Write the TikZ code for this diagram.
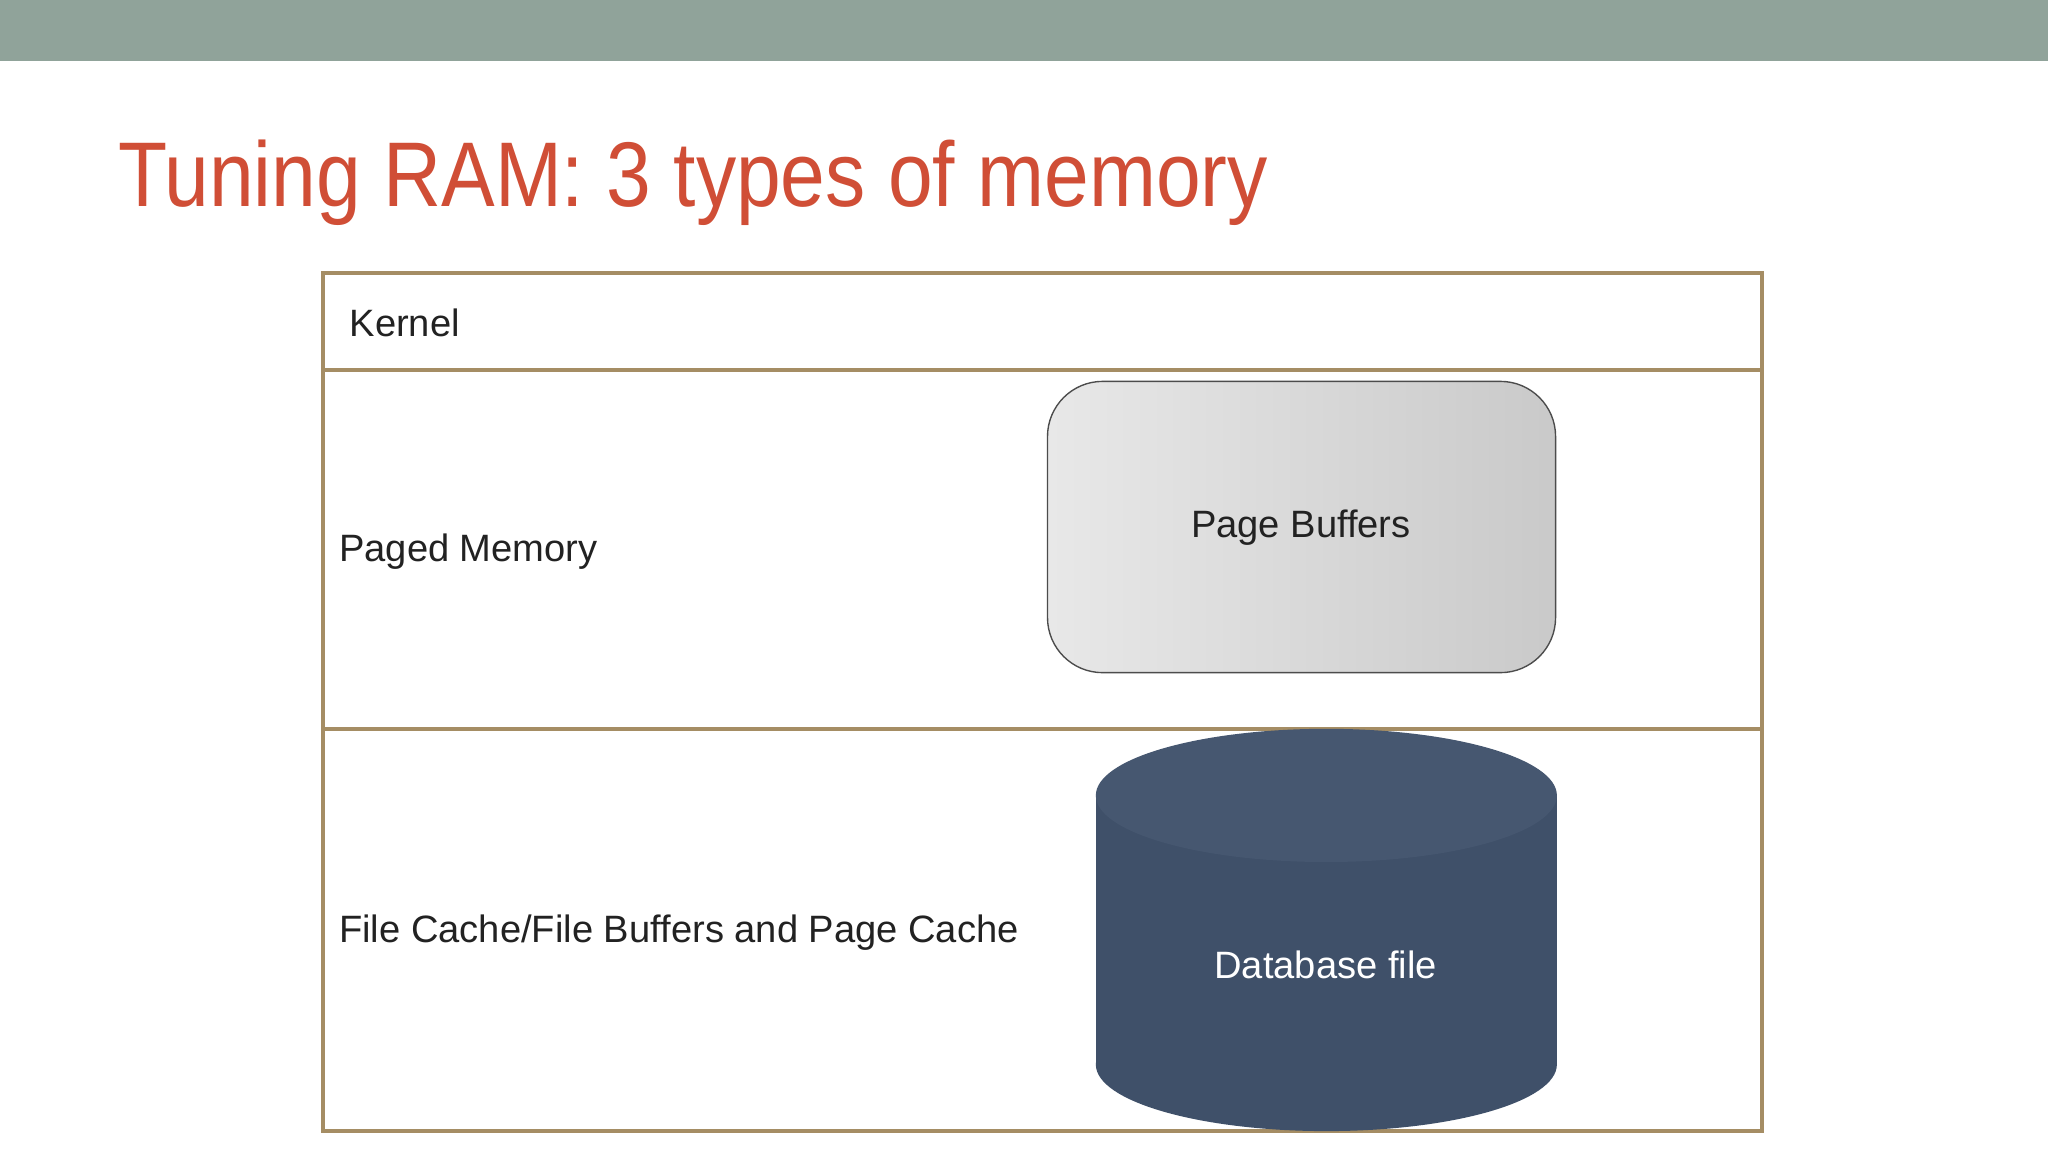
\documentclass[tikz,border=0pt]{standalone}
\usepackage{fontspec}
\setmainfont{Liberation Sans}
\definecolor{barc}{HTML}{90A39A}
\definecolor{titlec}{HTML}{D04E36}
\definecolor{framec}{HTML}{A58D64}
\definecolor{cylc}{HTML}{3F5069}
\definecolor{cyltop}{HTML}{465770}
\definecolor{txt}{HTML}{222222}
\begin{document}
\begin{tikzpicture}[x=0.01cm,y=-0.01cm,
  frame/.style={draw=framec,line width=0.9pt},
  lbl/.style={anchor=west,inner sep=0,font=\fontsize{8.3pt}{10pt}\selectfont,text=txt}]
\useasboundingbox (0,0) rectangle (1568,882);
\fill[white] (0,0) rectangle (1568,882);
\fill[barc] (0,0) rectangle (1568,47);
\node[anchor=base west,inner sep=0,text=titlec,xscale=0.875,font=\fontsize{20pt}{24pt}\selectfont] (title) at (90,158) {Tuning RAM: 3 types of memory};
\draw[frame] (247,209) rectangle (1349,866);
\draw[frame] (247,283) -- (1349,283);
\draw[frame] (247,558) -- (1349,558);
\node[lbl] (kernel) at (267,247) {Kernel};
\node[lbl] (paged) at (259,422) {Paged Memory};
\node[lbl] (filec) at (259,714) {File Cache/File Buffers and Page Cache};
\shade[left color=gray!18,right color=gray!42,draw=black!70,line width=0.3pt,rounded corners=12pt] (802,292) rectangle (1191,515);
\node[lbl,anchor=center] (pb) at (996,404) {Page Buffers};
\fill[cylc] (839,609) rectangle (1192,815);
\fill[cylc] (1015.5,815) ellipse [x radius=176.5, y radius=51];
\fill[cyltop] (1015.5,609) ellipse [x radius=176.5, y radius=51];
\node[lbl,anchor=center,text=white] (db) at (1015,739) {Database file};
\end{tikzpicture}
\end{document}
